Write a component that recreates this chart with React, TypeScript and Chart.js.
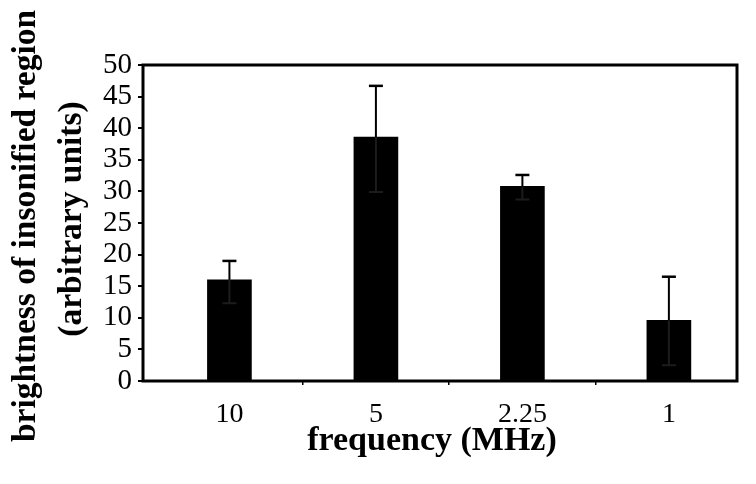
import React, { useEffect, useRef } from "react";
import { Chart, registerables } from "chart.js";

Chart.register(...registerables);

const categories = ["10", "5", "2.25", "1"];
const brightness = [16.0, 38.6, 30.8, 9.6];
const errorUpper = [3.0, 8.1, 1.8, 6.9];
const errorLower = [3.7, 8.7, 2.1, 7.1];
const yTicksMin = 0;
const yTicksMax = 50;
const yTickStep = 5;
const xTitle = "frequency (MHz)";
const yTitleLines = ["brightness of insonified region", "(arbitrary units)"];

const SERIF = "'Liberation Serif', 'Times New Roman', serif";

const errorBarPlugin = {
  id: "errorBars",
  afterDatasetsDraw(chart: any) {
    const { ctx } = chart;
    const meta = chart.getDatasetMeta(0);
    const y = chart.scales.y;
    ctx.save();
    meta.data.forEach((bar: any, i: number) => {
      const x = bar.x;
      const top = y.getPixelForValue(brightness[i] + errorUpper[i]);
      const bottom = y.getPixelForValue(brightness[i] - errorLower[i]);
      const cap = 7;
      // lower part (inside the bar)
      ctx.strokeStyle = "#1c1c1c";
      ctx.lineWidth = 2;
      ctx.beginPath();
      ctx.moveTo(x, bar.y);
      ctx.lineTo(x, bottom);
      ctx.moveTo(x - cap, bottom);
      ctx.lineTo(x + cap, bottom);
      ctx.stroke();
      // upper part
      ctx.strokeStyle = "#000";
      ctx.beginPath();
      ctx.moveTo(x, bar.y);
      ctx.lineTo(x, top);
      ctx.stroke();
      ctx.lineWidth = 2.5;
      ctx.beginPath();
      ctx.moveTo(x - cap, top);
      ctx.lineTo(x + cap, top);
      ctx.stroke();
    });
    ctx.restore();
  },
  afterDraw(chart: any) {
    const { ctx, chartArea } = chart;
    ctx.save();
    ctx.strokeStyle = "#000";
    ctx.lineWidth = 3;
    ctx.strokeRect(
      chartArea.left,
      chartArea.top,
      chartArea.right - chartArea.left,
      chartArea.bottom - chartArea.top
    );
    // axis titles
    ctx.fillStyle = "#000";
    ctx.font = `bold 34px ${SERIF}`;
    ctx.textAlign = "center";
    ctx.textBaseline = "alphabetic";
    ctx.fillText(xTitle, (chartArea.left + chartArea.right) / 2 - 8, 450);
    ctx.font = `bold 33.5px ${SERIF}`;
    ctx.textBaseline = "middle";
    const cy = (chartArea.top + chartArea.bottom) / 2;
    const xs = [26, 72];
    const yc = [cy + 3, cy - 4];
    yTitleLines.forEach((line, i) => {
      ctx.save();
      ctx.translate(xs[i], yc[i]);
      ctx.rotate(-Math.PI / 2);
      ctx.fillText(line, 0, 0);
      ctx.restore();
    });
    ctx.restore();
  },
};

export default function App() {
  const ref = useRef<HTMLCanvasElement | null>(null);
  useEffect(() => {
    if (!ref.current) return;
    const chart = new Chart(ref.current, {
      type: "bar",
      data: {
        datasets: [
          {
            data: brightness.map((v, i) => ({ x: i, y: v })),
            backgroundColor: "#000",
            borderWidth: 0,
            barThickness: 44,
          },
        ],
      },
      options: {
        animation: false,
        responsive: false,
        layout: { padding: { top: 65, right: 19, left: 0, bottom: 0 } },
        plugins: {
          legend: { display: false },
          tooltip: { enabled: false },
        },
        scales: {
          x: {
            type: "linear",
            min: -0.59,
            max: 3.465,
            offset: false,
            afterBuildTicks: (s: any) => {
              const t: any[] = [];
              categories.forEach((_, i) => {
                t.push({ value: i });
                if (i < categories.length - 1) t.push({ value: i + 0.5 });
              });
              s.ticks = t;
            },
            afterFit: (s: any) => {
              s.height = 103;
            },
            border: { display: false },
            grid: {
              offset: false,
              drawOnChartArea: false,
              drawTicks: true,
              tickLength: 4,
              lineWidth: 1.5,
              color: (c: any) =>
                c.tick && Number.isInteger(c.tick.value) ? "rgba(0,0,0,0)" : "#000",
            },
            ticks: {
              autoSkip: false,
              maxRotation: 0,
              padding: 13,
              color: "#000",
              font: { family: SERIF, size: 28 },
              callback: (v: any) =>
                Number.isInteger(v) ? categories[v as number] : "",
            },
          },
          y: {
            min: yTicksMin,
            max: yTicksMax,
            afterFit: (s: any) => {
              s.width = 143;
            },
            border: { display: false },
            grid: {
              drawOnChartArea: false,
              drawTicks: true,
              tickLength: 5,
              lineWidth: 2,
              color: "#000",
            },
            ticks: {
              stepSize: yTickStep,
              autoSkip: false,
              padding: 6,
              color: "#000",
              font: { family: SERIF, size: 29 },
            },
          },
        },
      },
      plugins: [errorBarPlugin],
    } as any);
    return () => chart.destroy();
  }, []);
  return (
    <div style={{ position: "absolute", left: 0, top: 0, width: 756, height: 484, background: "#fff" }}>
      <canvas ref={ref} width={756} height={484} />
    </div>
  );
}
